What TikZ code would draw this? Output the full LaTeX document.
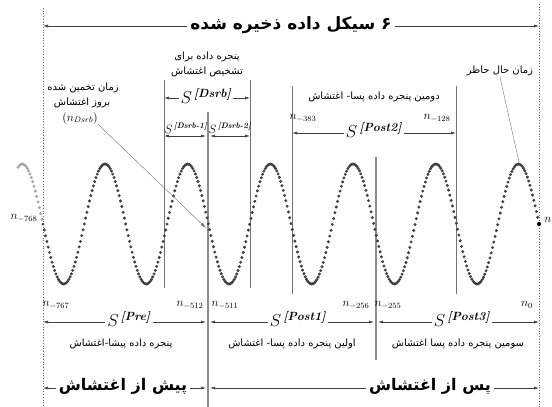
\documentclass[tikz,border=0pt]{standalone}
\usepackage{amsmath}
\usepackage{fontspec}
\usetikzlibrary{arrows.meta}
\TeXXeTstate=1
\newfontfamily\fafont[Script=Arabic]{DejaVu Sans}
\newcommand{\fa}[1]{{\fafont\beginR #1\endR}}
\newcommand{\Sup}[1]{$S^{\,\text{\bfseries\itshape [#1]}}$}

\begin{document}
\begin{tikzpicture}[x=1pt,y=-1pt,
  txt/.style={font=\fontsize{10}{12}\selectfont, inner sep=1pt},
  head/.style={font=\fontsize{17}{20}\selectfont\bfseries, fill=white, inner sep=3pt},
  nlbl/.style={font=\fontsize{12}{12}\selectfont, inner sep=0pt},
  slbl/.style={font=\fontsize{17}{17}\selectfont, fill=white, inner sep=2pt},
  sslbl/.style={font=\fontsize{12}{12}\selectfont, inner sep=0pt},
  win/.style={draw=black!55, line width=0.6pt},
  cut/.style={draw=black!45, line width=2.5pt},
  bound/.style={draw=black!60, dotted, line width=0.7pt},
  dim/.style={draw=black!75, line width=0.6pt, {Latex[length=5pt,width=3pt]}-{Latex[length=5pt,width=3pt]}},
  ptr/.style={draw=black!55, line width=0.4pt}
]
\useasboundingbox (0,0) rectangle (552,407);

% record limits
\coordinate (lt) at (43,8);   \coordinate (lb) at (43,407);
\coordinate (rt) at (539,4);  \coordinate (rb) at (539,407);
\draw[bound] (lt) -- (lb);
\draw[bound] (rt) -- (rb);

% disturbance instants
\coordinate (c1t) at (208,112); \coordinate (c1b) at (208,407);
\coordinate (c2t) at (376,157); \coordinate (c2b) at (376,360);
\draw[cut] (c1t) -- (c1b);
\draw[cut] (c2t) -- (c2b);

% window edges
\coordinate (w1t) at (164,80);  \coordinate (w1b) at (164,288);
\coordinate (w2t) at (250,80);  \coordinate (w2b) at (250,288);
\coordinate (w3t) at (292,86);  \coordinate (w3b) at (292,294);
\coordinate (w4t) at (456,86);  \coordinate (w4b) at (456,294);
\draw[win] (w1t) -- (w1b);
\draw[win] (w2t) -- (w2b);
\draw[win] (w3t) -- (w3b);
\draw[win] (w4t) -- (w4b);

% sampled signal
\draw[black!35] plot[only marks, mark=*, mark size=1.3pt, domain=18:42, samples=19]
  (\x, {224-60*cos(360/82.7*(\x-22.3))});
\draw[black!75] plot[only marks, mark=*, mark size=1.3pt, domain=43:539, samples=385]
  (\x, {224-60*cos(360/82.7*(\x-22.3))});
\fill[black] (539,224) circle (2pt);

% 6 cycles
\coordinate (a1) at (43,26); \coordinate (a2) at (539,26);
\draw[dim] (a1) -- (a2);
\node[head] (cyc) at (291,25) {\fa{۶ سیکل داده ذخیره شده}};

% detection window
\node[txt] (dw1) at (207,57) {\fa{پنجره داده برای}};
\node[txt] (dw2) at (207,72) {\fa{تشخیص اغتشاش}};
\coordinate (d1) at (164,98);  \coordinate (d2) at (250,98);
\draw[dim] (d1) -- (d2);
\node[slbl] (sd) at (206,96) {\Sup{Dsrb}};
\coordinate (e1) at (164,136); \coordinate (e2) at (206,136);
\coordinate (e3) at (210,136); \coordinate (e4) at (250,136);
\draw[dim] (e1) -- (e2);
\draw[dim] (e3) -- (e4);
\node[sslbl] (sd1) at (186,128) {\Sup{Dsrb-1}};
\node[sslbl] (sd2) at (230,128) {\Sup{Dsrb-2}};

% estimated instant
\node[txt] (est1) at (83,88) {\fa{زمان تخمین شده}};
\node[txt] (est2) at (82,103) {\fa{بروز اغتشاش}};
\node[nlbl] (est3) at (80,118) {$(n_{Dsrb})$};
\coordinate (nd) at (206,228);
\draw[ptr, -{Latex[length=6pt,width=3.5pt]}] (est3.south east) -- (nd);

% second post window
\node[txt] (pw2) at (374,97) {\fa{دومین پنجره داده پسا- اغتشاش}};
\node[nlbl] (n383) at (303,118) {$n_{-383}$};
\node[nlbl] (n128) at (437,118) {$n_{-128}$};
\coordinate (p1) at (292,133); \coordinate (p2) at (456,133);
\draw[dim] (p1) -- (p2);
\node[slbl] (sp2) at (374,130) {\Sup{Post2}};

% present time
\node[txt] (now) at (500,71) {\fa{زمان حال حاظر}};
\coordinate (pk) at (519,162);
\draw[ptr] (now.south) -- (pk);

\node[nlbl] (n768) at (24,218) {$n_{-768}$};
\node[nlbl] (nn) at (548,220) {$n$};

% lower windows
\node[nlbl] (n767) at (56,305) {$n_{-767}$};
\node[nlbl] (n512) at (190,305) {$n_{-512}$};
\node[nlbl] (n511) at (225,305) {$n_{-511}$};
\node[nlbl] (n256) at (356,305) {$n_{-256}$};
\node[nlbl] (n255) at (388,305) {$n_{-255}$};
\node[nlbl] (n0) at (527,305) {$n_0$};
\coordinate (b1) at (43,322);  \coordinate (b2) at (206,322);
\coordinate (b3) at (210,322); \coordinate (b4) at (374,322);
\coordinate (b5) at (378,322); \coordinate (b6) at (539,322);
\draw[dim] (b1) -- (b2);
\draw[dim] (b3) -- (b4);
\draw[dim] (b5) -- (b6);
\node[slbl] (spre) at (129,319) {\Sup{Pre}};
\node[slbl] (sp1) at (298,319) {\Sup{Post1}};
\node[slbl] (sp3) at (462,319) {\Sup{Post3}};
\node[txt] (wpre) at (121,344) {\fa{پنجره داده پیشا-اغتشاش}};
\node[txt] (wp1) at (292,344) {\fa{اولین پنجره داده پسا- اغتشاش}};
\node[txt] (wp3) at (458,344) {\fa{سومین پنجره داده پسا اغتشاش}};

% before / after
\coordinate (f1) at (43,388);  \coordinate (f2) at (206,388);
\coordinate (f3) at (210,388); \coordinate (f4) at (539,388);
\draw[dim] (f1) -- (f2);
\draw[dim] (f3) -- (f4);
\node[head, font=\fontsize{16}{18}\selectfont\bfseries] (pre) at (123,386) {\fa{پیش از اغتشاش}};
\node[head, font=\fontsize{16}{18}\selectfont\bfseries] (post) at (430,386) {\fa{پس از اغتشاش}};

\end{tikzpicture}
\end{document}
